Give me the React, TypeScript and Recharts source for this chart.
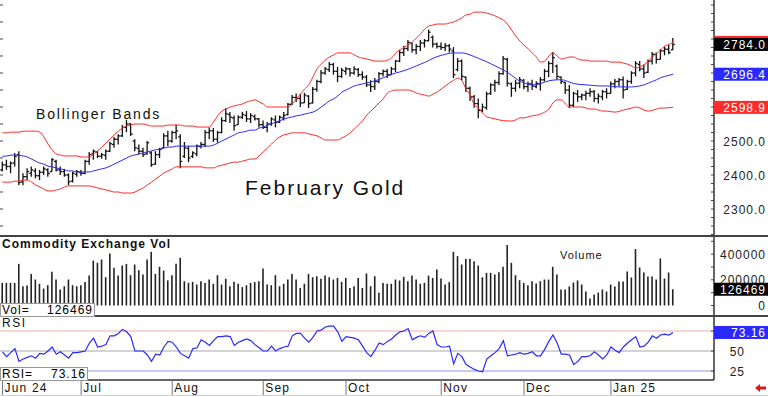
import React from "react";
import { ComposedChart, Bar, Line, XAxis, YAxis, ReferenceLine } from "recharts";

// daily bars, Jun 3 2024 .. Jan 24 2025 (February gold futures)
const OPEN = [
  2415, 2430, 2425, 2435, 2460, 2380, 2395, 2405, 2412, 2398, 2408, 2415, 2410, 2440, 2415, 2410, 2400, 2382, 2402,
  2408, 2405, 2440, 2462, 2468, 2455, 2458, 2470, 2490, 2505, 2515, 2540, 2550, 2500, 2478, 2470, 2462, 2465, 2432, 2460, 2480, 2515,
  2500, 2525, 2512, 2455, 2478, 2455, 2462, 2484, 2490, 2525, 2530, 2505, 2525, 2560, 2578, 2568, 2548, 2570, 2575, 2565, 2572, 2565,
  2548, 2540, 2550, 2562, 2555, 2568, 2578, 2608, 2628, 2625, 2612, 2632, 2612, 2652, 2675, 2700, 2710, 2725, 2705, 2690,
  2705, 2712, 2700, 2710, 2695, 2688, 2665, 2660, 2675, 2698, 2705, 2695, 2712, 2735, 2760, 2772, 2788, 2768, 2778, 2788, 2795, 2805, 2785,
  2778, 2775, 2780, 2765, 2710, 2735, 2688, 2655, 2630, 2610, 2590, 2598, 2640, 2665, 2672, 2698, 2740, 2668, 2655, 2670,
  2678, 2660, 2668, 2660, 2668, 2680, 2705, 2728, 2720, 2688, 2672, 2650, 2605, 2638, 2630, 2635, 2640, 2645, 2625, 2630, 2645,
  2640, 2668, 2675, 2680, 2652, 2675, 2700, 2725, 2712, 2702, 2735, 2755, 2740, 2765, 2770, 2768,
];
const HIGH = [
  2440, 2445, 2440, 2465, 2470, 2405, 2420, 2425, 2420, 2415, 2425, 2420, 2450, 2445, 2425, 2418, 2405, 2410, 2415,
  2415, 2445, 2468, 2475, 2470, 2465, 2475, 2497, 2512, 2520, 2547, 2562, 2553, 2505, 2490, 2480, 2500, 2470, 2470, 2480, 2523, 2530,
  2530, 2548, 2520, 2497, 2485, 2470, 2490, 2497, 2532, 2540, 2538, 2530, 2570, 2597, 2585, 2575, 2576, 2585, 2588, 2582, 2578, 2568,
  2560, 2556, 2570, 2575, 2575, 2585, 2612, 2635, 2640, 2638, 2642, 2635, 2659, 2680, 2709, 2718, 2732, 2730, 2718, 2715,
  2718, 2715, 2720, 2715, 2705, 2694, 2679, 2685, 2703, 2710, 2712, 2718, 2738, 2768, 2780, 2797, 2790, 2785, 2797, 2800, 2828, 2810, 2790,
  2790, 2788, 2785, 2776, 2744, 2740, 2690, 2660, 2635, 2625, 2610, 2645, 2670, 2680, 2705, 2750, 2745, 2672, 2680, 2688,
  2682, 2675, 2680, 2676, 2688, 2712, 2735, 2762, 2725, 2690, 2675, 2665, 2645, 2650, 2640, 2648, 2655, 2650, 2640, 2650, 2655,
  2675, 2682, 2685, 2690, 2680, 2705, 2735, 2735, 2725, 2740, 2762, 2760, 2770, 2778, 2782, 2803,
];
const LOW = [
  2410, 2415, 2405, 2425, 2370, 2370, 2385, 2395, 2390, 2385, 2400, 2395, 2410, 2410, 2400, 2395, 2370, 2378, 2395,
  2398, 2402, 2430, 2445, 2450, 2448, 2445, 2468, 2480, 2490, 2512, 2526, 2515, 2470, 2460, 2453, 2460, 2424, 2430, 2450, 2480, 2485,
  2495, 2505, 2420, 2450, 2438, 2450, 2455, 2478, 2482, 2505, 2497, 2495, 2523, 2556, 2553, 2530, 2548, 2565, 2556, 2553, 2560, 2540,
  2535, 2526, 2545, 2540, 2553, 2560, 2575, 2605, 2615, 2600, 2612, 2597, 2610, 2645, 2670, 2695, 2703, 2695, 2673, 2685,
  2695, 2690, 2695, 2688, 2680, 2659, 2644, 2650, 2670, 2690, 2685, 2695, 2703, 2732, 2750, 2765, 2760, 2755, 2765, 2775, 2793, 2775, 2772,
  2768, 2765, 2760, 2685, 2705, 2679, 2644, 2618, 2598, 2567, 2585, 2592, 2635, 2645, 2665, 2695, 2660, 2630, 2645, 2655,
  2652, 2645, 2650, 2655, 2648, 2675, 2688, 2700, 2680, 2668, 2638, 2597, 2600, 2615, 2620, 2620, 2630, 2615, 2610, 2620, 2625,
  2640, 2655, 2660, 2625, 2650, 2668, 2690, 2705, 2685, 2700, 2725, 2728, 2740, 2752, 2755, 2768,
];
const CLOSE = [
  2430, 2425, 2435, 2455, 2378, 2395, 2410, 2415, 2398, 2408, 2418, 2405, 2445, 2415, 2410, 2400, 2380, 2405, 2410,
  2405, 2440, 2460, 2470, 2455, 2460, 2470, 2492, 2505, 2515, 2540, 2550, 2520, 2480, 2470, 2460, 2495, 2430, 2460, 2475, 2515, 2500,
  2525, 2530, 2440, 2480, 2450, 2465, 2485, 2490, 2525, 2530, 2505, 2525, 2560, 2580, 2570, 2545, 2570, 2578, 2565, 2575, 2565, 2548,
  2540, 2550, 2565, 2555, 2570, 2575, 2608, 2628, 2625, 2612, 2635, 2610, 2652, 2675, 2700, 2712, 2725, 2705, 2690, 2708,
  2712, 2700, 2712, 2695, 2688, 2665, 2660, 2675, 2698, 2705, 2695, 2712, 2735, 2760, 2772, 2790, 2768, 2778, 2788, 2795, 2820, 2785, 2778,
  2775, 2780, 2770, 2695, 2735, 2690, 2655, 2630, 2610, 2590, 2600, 2638, 2665, 2672, 2698, 2742, 2670, 2655, 2670, 2680,
  2660, 2668, 2662, 2670, 2680, 2705, 2728, 2745, 2690, 2675, 2650, 2605, 2640, 2630, 2635, 2640, 2645, 2625, 2632, 2645, 2640,
  2668, 2675, 2680, 2650, 2675, 2700, 2728, 2712, 2700, 2735, 2755, 2740, 2765, 2770, 2760, 2784.0,
];

// bollinger bands
const UPPER = [
  2524, 2524, 2526, 2526, 2526, 2529, 2529, 2529, 2529,
  2526, 2512, 2491, 2474, 2462, 2459, 2456, 2456, 2456, 2456, 2453, 2453, 2453,
  2462, 2471, 2482, 2494, 2506, 2518, 2529, 2538, 2544, 2547, 2550, 2550,
  2550, 2547, 2544, 2544, 2544, 2544, 2547, 2547, 2547, 2547, 2544, 2544, 2544, 2541, 2541, 2541, 2541,
  2556, 2574, 2588, 2594, 2600, 2603, 2606, 2609, 2615, 2618, 2621,
  2615, 2609, 2600, 2600, 2600, 2600, 2600, 2600,
  2609, 2624, 2638, 2653, 2665, 2688, 2712, 2726, 2738, 2747, 2753, 2759, 2759,
  2759, 2759, 2753, 2747, 2744, 2741, 2738, 2735, 2735, 2735, 2738, 2744,
  2759, 2768, 2776, 2782, 2791, 2803, 2815, 2829, 2838, 2841, 2844, 2844, 2844,
  2847, 2850, 2856, 2862, 2871, 2873, 2879, 2879, 2879, 2876, 2873, 2868, 2862, 2856,
  2844, 2826, 2809, 2794, 2782, 2771, 2759, 2747, 2732, 2735, 2750, 2759,
  2750, 2741, 2744, 2747, 2747, 2741, 2738, 2738, 2735, 2735, 2735, 2735, 2735,
  2732, 2732, 2732, 2729, 2726, 2721, 2715, 2718, 2724, 2735, 2747, 2756, 2768, 2779, 2784, 2789.9,
];
const MIDDLE = [
  2455, 2456, 2458, 2459, 2458, 2456, 2453, 2447, 2441, 2435,
  2432, 2426, 2424, 2421, 2418, 2415, 2412, 2412, 2409, 2409,
  2409, 2409, 2412, 2415, 2418, 2421, 2426, 2432, 2438, 2444,
  2450, 2456, 2459, 2462, 2465, 2468, 2471, 2474, 2476, 2479,
  2482, 2482, 2485, 2485, 2485, 2485, 2485, 2485, 2485, 2485,
  2485, 2488, 2494, 2500, 2506, 2512, 2518, 2524, 2526, 2529,
  2532, 2532, 2538, 2541, 2547, 2550, 2556, 2559, 2565, 2568,
  2571, 2574, 2576, 2579, 2582, 2585, 2591, 2600, 2609, 2618,
  2624, 2632, 2644, 2650, 2656, 2662, 2665, 2668, 2671, 2674,
  2677, 2681, 2686, 2691, 2696, 2700, 2703, 2707, 2711, 2716,
  2721, 2726, 2731, 2737, 2743, 2748, 2752, 2755, 2758, 2759,
  2759, 2759, 2757, 2753, 2748, 2743, 2738, 2733, 2727, 2721,
  2715, 2709, 2702, 2693, 2684, 2676, 2671, 2667, 2665, 2666,
  2669, 2673, 2677, 2679, 2680, 2680, 2678, 2673, 2669, 2667,
  2666, 2665, 2664, 2663, 2662, 2662, 2662, 2661, 2660, 2659,
  2659, 2659, 2659, 2660, 2662, 2665, 2670, 2675, 2680, 2686,
  2690, 2693, 2696.4,
];
const LOWER = [
  2379, 2379, 2379, 2382, 2382, 2385, 2385, 2379, 2371, 2365,
  2359, 2353, 2353, 2356, 2359, 2365, 2368, 2368, 2368, 2368,
  2368, 2368, 2365, 2362, 2359, 2356, 2353, 2350, 2350, 2347,
  2347, 2347, 2350, 2356, 2362, 2371, 2379, 2388, 2397, 2406,
  2412, 2418, 2424, 2424, 2424, 2424, 2424, 2424, 2424, 2421,
  2421, 2421, 2426, 2429, 2432, 2435, 2438, 2438, 2441, 2444,
  2447, 2447, 2456, 2468, 2479, 2491, 2503, 2512, 2518, 2521,
  2524, 2524, 2524, 2524, 2521, 2518, 2515, 2509, 2503, 2503,
  2503, 2503, 2509, 2515, 2524, 2535, 2547, 2559, 2576, 2588,
  2600, 2612, 2624, 2641, 2647, 2650, 2650, 2650, 2650, 2647,
  2641, 2638, 2635, 2632, 2638, 2644, 2653, 2662, 2671, 2679,
  2685, 2677, 2653, 2635, 2606, 2597, 2582, 2571, 2568, 2565,
  2562, 2560, 2559, 2559, 2562, 2568, 2568, 2571, 2574, 2576,
  2579, 2585, 2594, 2612, 2621, 2621, 2609, 2600, 2600, 2600,
  2600, 2597, 2594, 2594, 2591, 2588, 2588, 2586, 2585, 2587,
  2591, 2594, 2597, 2600, 2597, 2591, 2588, 2590, 2594, 2597,
  2597, 2598, 2598.9,
];

const VOLUME = [
  176000, 176000, 176000, 176000, 324000, 150000, 156000, 246000, 202000, 169000,
  132000, 158000, 262000, 202000, 125000, 150000, 202000, 158000, 150000, 158000,
  182000, 233000, 350000, 332000, 358000, 220000, 405000, 293000, 233000, 311000,
  324000, 236000, 319000, 275000, 241000, 358000, 418000, 246000, 301000, 272000,
  195000, 236000, 324000, 371000, 189000, 176000, 184000, 163000, 189000, 176000,
  202000, 169000, 236000, 163000, 208000, 150000, 184000, 169000, 143000, 158000,
  176000, 182000, 189000, 288000, 163000, 158000, 236000, 150000, 169000, 202000,
  246000, 202000, 137000, 169000, 246000, 220000, 228000, 208000, 233000, 220000,
  202000, 215000, 184000, 215000, 137000, 150000, 215000, 137000, 249000, 150000,
  228000, 99000, 175000, 169000, 169000, 202000, 195000, 223000, 189000, 233000,
  202000, 169000, 176000, 233000, 215000, 280000, 210000, 163000, 182000, 418000,
  384000, 319000, 363000, 363000, 345000, 311000, 220000, 254000, 254000, 241000,
  259000, 301000, 470000, 332000, 236000, 197000, 176000, 158000, 189000, 171000,
  189000, 202000, 202000, 301000, 241000, 125000, 125000, 148000, 179000, 195000,
  163000, 109000, 54000, 86000, 101000, 125000, 109000, 163000, 148000, 187000,
  187000, 265000, 218000, 440000, 296000, 257000, 226000, 226000, 202000, 366000,
  210000, 257000, 126469,
];

const RSI = [
  49, 43, 48, 53, 37, 40, 42, 44, 41, 47,
  46, 50, 55, 46, 49, 45, 41, 48, 48, 49,
  50, 60, 66, 55, 56, 58, 69, 69, 72, 77,
  74, 68, 50, 50, 50, 45, 37, 46, 45, 55,
  62, 61, 55, 47, 44, 41, 53, 54, 64, 61,
  57, 63, 68, 68, 69, 68, 57, 61, 63, 65,
  63, 58, 54, 50, 50, 56, 50, 53, 55, 56,
  69, 72, 72, 66, 61, 67, 75, 76, 80, 81,
  81, 74, 62, 68, 67, 66, 64, 56, 48, 43,
  51, 60, 58, 62, 65, 70, 74, 75, 78, 64,
  67, 69, 67, 72, 75, 58, 55, 55, 56, 34,
  47, 43, 33, 30, 27, 25, 24, 40, 44, 48,
  53, 63, 44, 45, 46, 48, 46, 47, 49, 44,
  44, 52, 62, 70, 60, 46, 46, 45, 33, 37,
  43, 43, 44, 49, 45, 40, 45, 55, 51, 48,
  55, 60, 64, 68, 55, 56, 61, 69, 66, 70,
  71, 70, 73.16,
];

const MONTH_LABELS = ["Jun 24", "Jul", "Aug", "Sep", "Oct", "Nov", "Dec", "Jan 25"];
const MONTH_START = [0, 19, 41, 63, 83, 106, 126, 147];

const PRICE_MARKS = [
  2225, 2250, 2275, 2300, 2325, 2350, 2375, 2400, 2425, 2450, 2475, 2500, 2525, 2550,
  2575, 2600, 2625, 2650, 2675, 2700, 2725, 2750, 2775, 2800, 2825, 2850, 2875, 2900,
];
const PRICE_LABELS = [2300, 2400, 2500];
const VOL_MARKS = [0, 100000, 200000, 300000, 400000, 500000];
const VOL_LABELS = [0, 200000, 400000];
const RSI_MARKS = [25, 50, 75];
const RSI_LABELS = [25, 50];

const FONT = "'Liberation Sans', Arial, sans-serif";
const RED = "#ff2a2a";
const BLUE = "#2a2aff";
const LAST = CLOSE.length - 1;
const X_DOMAIN = [-0.6, 171.9];

const data = CLOSE.map((c, i) => ({
  i,
  range: [LOW[i], HIGH[i]],
  open: OPEN[i],
  close: c,
  upper: UPPER[i],
  mid: MIDDLE[i],
  lower: LOWER[i],
  vol: VOLUME[i],
  rsi: RSI[i],
}));

// drawn in this order: black close box must end up on top
const PRICE_BOXES = [
  { value: LOWER[LAST], color: RED },
  { value: MIDDLE[LAST], color: BLUE },
  { value: UPPER[LAST], color: RED },
  { value: CLOSE[LAST], color: "#000" },
];

const OhlcBar = (props: any) => {
  const { x, y, width, height, payload } = props;
  const [lo, hi] = payload.range;
  const cx = x + width / 2;
  const k = height / (hi - lo || 1);
  const yo = y + (hi - payload.open) * k;
  const yc = y + (hi - payload.close) * k;
  return (
    <g stroke="#111" strokeWidth={1.3}>
      <line x1={cx} x2={cx} y1={y} y2={y + height} />
      <line x1={cx - 2} x2={cx} y1={yo} y2={yo} />
      <line x1={cx} x2={cx + 2} y1={yc} y2={yc} />
    </g>
  );
};

const boxText = (v: string, x: number, y: number, color: string) => (
  <g>
    <rect x={x} y={y - 6.5} width={54} height={13} fill={color} />
    <text x={766} y={y + 4.5} textAnchor="end" fill="#fff" fontSize={12} letterSpacing={1} fontFamily={FONT}>
      {v}
    </text>
  </g>
);

const PriceTick = ({ x, y, payload }: any) => {
  const v = payload.value;
  const box = PRICE_BOXES.find((b) => b.value === v);
  if (box) return boxText(v.toFixed(1), x, y, box.color);
  return (
    <g>
      <line x1={x - 3} x2={x} y1={y} y2={y} stroke="#444" />
      {v % 50 === 0 && <line x1={0} x2={3} y1={y} y2={y} stroke="#444" />}
      {PRICE_LABELS.includes(v) && (
        <text x={766} y={y + 4.5} textAnchor="end" fill="#222" fontSize={12} letterSpacing={1} fontFamily={FONT}>
          {v.toFixed(1)}
        </text>
      )}
    </g>
  );
};

const VolTick = ({ x, y, payload }: any) => {
  const v = payload.value;
  if (v === VOLUME[LAST]) return boxText(String(v), x, y, "#000");
  return (
    <g>
      <line x1={x - 3} x2={x} y1={y} y2={y} stroke="#444" />
      {VOL_LABELS.includes(v) && (
        <text x={766} y={y + 4.5} textAnchor="end" fill="#222" fontSize={12} letterSpacing={1} fontFamily={FONT}>
          {v}
        </text>
      )}
    </g>
  );
};

const RsiTick = ({ x, y, payload }: any) => {
  const v = payload.value;
  if (v === RSI[LAST]) return boxText(v.toFixed(2), x, y, BLUE);
  return (
    <g>
      <line x1={x - 3} x2={x} y1={y} y2={y} stroke="#444" />
      {RSI_LABELS.includes(v) && (
        <text x={745} y={y + 4.5} textAnchor="end" fill="#222" fontSize={12} letterSpacing={1} fontFamily={FONT}>
          {v}
        </text>
      )}
    </g>
  );
};

const MonthTick = ({ x, y, payload }: any) => {
  const k = MONTH_START.indexOf(payload.value);
  return (
    <g>
      <line x1={x} x2={x} y1={y} y2={y + 15} stroke="#777" />
      <text x={x + 2} y={y + 12} fill="#111" fontSize={12} letterSpacing={1.2} fontFamily={FONT}>
        {MONTH_LABELS[k]}
      </text>
    </g>
  );
};

const M = { top: 0, right: 0, left: 0, bottom: 0 };

const hline = (top: number, width: number, h = 2, color = "#444") => (
  <div style={{ position: "absolute", left: 0, top, width, height: h, background: color }} />
);

const label = (text: string, left: number, top: number, size: number, spacing: number, bold = false) => (
  <div
    style={{
      position: "absolute",
      left,
      top,
      fontSize: size,
      lineHeight: `${size}px`,
      letterSpacing: spacing,
      fontWeight: bold ? 700 : 400,
      whiteSpace: "nowrap",
      color: "#111",
    }}
  >
    {text}
  </div>
);

export default function App() {
  return (
    <div style={{ position: "relative", width: 768, height: 396, background: "#fff", overflow: "hidden", fontFamily: FONT }}>
      <style>{"body{margin:0}"}</style>

      {/* price panel */}
      <div style={{ position: "absolute", left: 0, top: 0 }}>
        <ComposedChart width={768} height={236} data={data} margin={M}>
          <XAxis dataKey="i" type="number" domain={X_DOMAIN} allowDataOverflow hide />
          <YAxis
            orientation="right"
            width={54}
            type="number"
            domain={[2220.6, 2914.7]}
            allowDataOverflow
            ticks={[...PRICE_MARKS, ...PRICE_BOXES.map((b) => b.value)]}
            interval={0}
            tickSize={0}
            tickMargin={0}
            tickLine={false}
            axisLine={{ stroke: "#333", strokeWidth: 1.5 }}
            tick={PriceTick}
          />
          <Line dataKey="upper" type="monotone" stroke={RED} strokeWidth={1} dot={false} activeDot={false} isAnimationActive={false} />
          <Line dataKey="lower" type="monotone" stroke={RED} strokeWidth={1} dot={false} activeDot={false} isAnimationActive={false} />
          <Line dataKey="mid" type="monotone" stroke={BLUE} strokeWidth={1} dot={false} activeDot={false} isAnimationActive={false} />
          <Bar dataKey="range" barSize={5} shape={OhlcBar} isAnimationActive={false} />
        </ComposedChart>
      </div>

      {/* volume panel */}
      <div style={{ position: "absolute", left: 0, top: 236 }}>
        <ComposedChart width={768} height={80} data={data} margin={M}>
          <XAxis dataKey="i" type="number" domain={X_DOMAIN} allowDataOverflow hide />
          <YAxis
            orientation="right"
            width={54}
            type="number"
            domain={[-81700, 540900]}
            allowDataOverflow
            ticks={[...VOL_MARKS, VOLUME[LAST]]}
            interval={0}
            tickSize={0}
            tickMargin={0}
            tickLine={false}
            axisLine={{ stroke: "#333", strokeWidth: 1.5 }}
            tick={VolTick}
          />
          <Bar dataKey="vol" barSize={1.6} fill="#222" isAnimationActive={false} />
        </ComposedChart>
      </div>

      {/* RSI panel + time axis */}
      <div style={{ position: "absolute", left: 0, top: 316 }}>
        <ComposedChart width={768} height={80} data={data} margin={M}>
          <XAxis
            dataKey="i"
            type="number"
            domain={X_DOMAIN}
            allowDataOverflow
            height={16}
            ticks={MONTH_START}
            interval={0}
            tickSize={0}
            tickMargin={0}
            tickLine={false}
            axisLine={{ stroke: "#333", strokeWidth: 1.5 }}
            tick={MonthTick}
          />
          <YAxis
            orientation="right"
            width={54}
            type="number"
            domain={[13.75, 93.75]}
            allowDataOverflow
            ticks={[...RSI_MARKS, RSI[LAST]]}
            interval={0}
            tickSize={0}
            tickMargin={0}
            tickLine={false}
            axisLine={{ stroke: "#333", strokeWidth: 1.5 }}
            tick={RsiTick}
          />
          <ReferenceLine y={75} stroke="#f4aaaa" strokeWidth={1} />
          <ReferenceLine y={50} stroke="#a8a8a8" strokeWidth={1} />
          <ReferenceLine y={25} stroke="#c8c8f4" strokeWidth={2} />
          <Line dataKey="rsi" type="linear" stroke={BLUE} strokeWidth={1.2} dot={false} activeDot={false} isAnimationActive={false} />
        </ComposedChart>
      </div>

      {/* panel separators */}
      {hline(235, 768)}
      {hline(315, 768)}
      {hline(395, 768, 1, "#ccc")}

      {/* texts */}
      {label("Bollinger Bands", 36, 106.5, 14, 1.8)}
      {label("February Gold", 245, 177, 21, 2)}
      {label("Commodity Exchange Vol", 2, 238, 12, 1, true)}
      {label("Volume", 560, 250, 11, 1)}
      {label("RSI", 2, 317, 12, 1.5)}

      {/* value boxes */}
      <div
        style={{
          position: "absolute", left: 0, top: 303, width: 93, height: 12, background: "#fff",
          border: "1px solid #999", fontSize: 12, lineHeight: "12px", letterSpacing: 1,
        }}
      >
        <span style={{ position: "absolute", left: 1, top: 0 }}>Vol=</span>
        <span style={{ position: "absolute", right: 1, top: 0 }}>{VOLUME[LAST]}</span>
      </div>
      <div
        style={{
          position: "absolute", left: 0, top: 367, width: 86, height: 12, background: "#fff",
          border: "1px solid #999", fontSize: 12, lineHeight: "12px", letterSpacing: 1,
        }}
      >
        <span style={{ position: "absolute", left: 1, top: 0 }}>RSI=</span>
        <span style={{ position: "absolute", right: 1, top: 0 }}>{RSI[LAST].toFixed(2)}</span>
      </div>

      {/* scroll arrow */}
      <svg style={{ position: "absolute", left: 754, top: 383 }} width={14} height={12}>
        <polygon points="1,5 6,1 6,3.5 12,3.5 12,6.5 6,6.5 6,9" fill="#e8141c" />
      </svg>
    </div>
  );
}
